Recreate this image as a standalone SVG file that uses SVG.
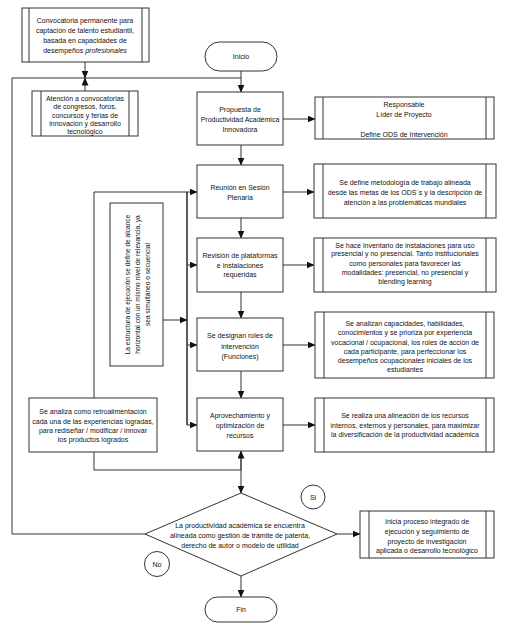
<svg xmlns="http://www.w3.org/2000/svg" width="511" height="635" viewBox="0 0 511 635">
<defs>
<marker id="ah" markerWidth="8" markerHeight="7" refX="7.5" refY="3.5" orient="auto" markerUnits="userSpaceOnUse">
<path d="M0,0 L8,3.5 L0,7 Z" fill="#111"/>
</marker>
<style>
.b{fill:#fff;stroke:#333;stroke-width:1}
.l{fill:none;stroke:#333;stroke-width:1}
.c{fill:none;stroke:#333;stroke-width:1;marker-end:url(#ah)}
text{font-family:"Liberation Sans",Arial,sans-serif;font-size:7px;fill:#111;text-anchor:middle}
.v{font-size:6.6px}
</style>
</defs>
<rect width="511" height="635" fill="#fff"/>

<g id="connectors">
<path class="c" d="M241,71 V92"/>
<path class="l" d="M145,534 H12 V78 H241"/>
<path class="c" d="M85,62 V78"/>
<path class="c" d="M85,91 V78"/>
<path class="c" d="M241,145 V165"/>
<path class="c" d="M241,218 V238"/>
<path class="c" d="M241,292 V318"/>
<path class="c" d="M241,371 V398"/>
<path class="c" d="M241,451 V493"/>
<path class="c" d="M94,452 V470 H241 V451"/>
<path class="c" d="M94,398 V192 H197"/>
<path fill="none" stroke="#333" stroke-width="1.6" d="M187,192 V425"/>
<path class="c" d="M187,425 H197"/>
<path class="c" d="M187,265 H197"/>
<path class="c" d="M187,345 H197"/>
<path class="c" d="M163,320 H187"/>
<path class="c" d="M283,119 H315"/>
<path class="c" d="M283,192 H314"/>
<path class="c" d="M283,265 H314"/>
<path class="c" d="M283,345 H315"/>
<path class="c" d="M283,425 H315"/>
<path class="c" d="M337,534 H360"/>
<path class="c" d="M241,576 V597"/>
</g>

<g id="convocatoria">
<rect class="b" x="22" y="8" width="127" height="54"/>
<path class="l" d="M29,8 V62 M142,8 V62"/>
<text x="85" y="22.5">Convocatoria permanente para</text>
<text x="85" y="32.5">captación de talento estudiantil,</text>
<text x="85" y="42.5">basada en capacidades de</text>
<text x="85" y="52.5">desempeños <tspan font-style="italic">profesionales</tspan></text>
</g>

<g id="atencion">
<rect class="b" x="32" y="91" width="106" height="45"/>
<path class="l" d="M41,91 V136 M129,91 V136"/>
<text x="85" y="100.5">Atención a convocatorias</text>
<text x="85" y="109">de congresos, foros,</text>
<text x="85" y="117.5">concursos y ferias de</text>
<text x="85" y="126">innovación y desarrollo</text>
<text x="85" y="134">tecnológico</text>
</g>

<g id="inicio">
<rect class="b" x="205" y="42" width="72" height="29" rx="14.5"/>
<text x="241" y="58.5">Inicio</text>
</g>

<g id="propuesta">
<rect class="b" x="197" y="92" width="86" height="53"/>
<text x="240" y="111.5">Propuesta de</text>
<text x="240" y="121.5">Productividad Académica</text>
<text x="240" y="131.5">Innovadora</text>
</g>

<g id="responsable">
<rect class="b" x="315" y="97" width="179" height="42"/>
<path class="l" d="M323,97 V139 M486,97 V139"/>
<text x="404" y="106.5">Responsable</text>
<text x="404" y="116.5">Líder de Proyecto</text>
<text x="404" y="136.5">Define ODS de Intervención</text>
</g>

<g id="reunion">
<rect class="b" x="197" y="165" width="86" height="53"/>
<text x="240" y="189.5">Reunión en Sesión</text>
<text x="240" y="199.5">Plenaria</text>
</g>

<g id="metodologia">
<rect class="b" x="314" y="164" width="182" height="54"/>
<path class="l" d="M323,164 V218 M486,164 V218"/>
<text x="405" y="184.5">Se define metodología de trabajo alineada</text>
<text x="405" y="194.5">desde las metas de los ODS´s y la descripción de</text>
<text x="405" y="204.5">atención a las problemáticas mundiales</text>
</g>

<g id="revision">
<rect class="b" x="197" y="238" width="86" height="54"/>
<text x="240" y="257.5">Revisión de plataformas</text>
<text x="240" y="267.5">e instalaciones</text>
<text x="240" y="276.5">requeridas</text>
</g>

<g id="inventario">
<rect class="b" x="314" y="238" width="182" height="54"/>
<path class="l" d="M323,238 V292 M486,238 V292"/>
<text x="405" y="247.5">Se hace inventario de instalaciones para uso</text>
<text x="405" y="256">presencial y no presencial. Tanto institucionales</text>
<text x="405" y="265.5">como personales para favorecer las</text>
<text x="405" y="274.5">modalidades: presencial, no presencial y</text>
<text x="405" y="283.5">blending learning</text>
</g>

<g id="designan">
<rect class="b" x="197" y="318" width="86" height="53"/>
<text x="240" y="337.5">Se designan roles de</text>
<text x="240" y="348.5">intervención</text>
<text x="240" y="358.5">(Funciones)</text>
</g>

<g id="analizan">
<rect class="b" x="315" y="312" width="179" height="66"/>
<path class="l" d="M324,312 V378 M486,312 V378"/>
<text x="405" y="325.5">Se analizan capacidades, habilidades,</text>
<text x="405" y="334.5">conocimientos y se prioriza por experiencia</text>
<text x="405" y="344.5">vocacional / ocupacional, los roles de acción de</text>
<text x="405" y="353.5">cada participante, para perfeccionar los</text>
<text x="405" y="362.5">desempeños ocupacionales iniciales de los</text>
<text x="405" y="371.5">estudiantes</text>
</g>

<g id="estructura">
<rect class="b" x="110" y="203" width="53" height="163"/>
<g transform="translate(136.5,284.5) rotate(-90)">
<text class="v" x="0" y="-7">La estructura de ejecución se define de alcance</text>
<text class="v" x="0" y="3">horizontal con un mismo nivel de relevancia, ya</text>
<text class="v" x="0" y="13">sea simultáneo o secuencial</text>
</g>
</g>

<g id="aprovechamiento">
<rect class="b" x="197" y="398" width="86" height="53"/>
<text x="240" y="417.5">Aprovechamiento  y</text>
<text x="240" y="427.5">optimización de</text>
<text x="240" y="437.5">recursos</text>
</g>

<g id="alineacion">
<rect class="b" x="315" y="398" width="179" height="54"/>
<path class="l" d="M324,398 V452 M486,398 V452"/>
<text x="405" y="417.5">Se realiza una alineación de los recursos</text>
<text x="405" y="427.5">internos, externos y personales, para maximizar</text>
<text x="405" y="436.5">la diversificación de la productividad académica</text>
</g>

<g id="retroalimentacion">
<rect class="b" x="29" y="398" width="128" height="54"/>
<text x="93" y="413.5">Se analiza como retroalimentación</text>
<text x="93" y="423.5">cada una de las experiencias logradas,</text>
<text x="93" y="432.5">para rediseñar / modificar / innovar</text>
<text x="93" y="441.5">los productos logrados</text>
</g>

<g id="decision">
<path class="b" d="M241,493 L337,534 L241,576 L145,534 Z"/>
<text x="240" y="527.5">La productividad académica se encuentra</text>
<text x="240" y="537.5">alineada como gestión de trámite de patenta,</text>
<text x="240" y="547.5">derecho de autor o modelo de utilidad</text>
</g>

<g id="si">
<circle class="b" cx="313" cy="497" r="12"/>
<text x="313" y="499.5">Si</text>
</g>

<g id="no">
<circle class="b" cx="157" cy="564" r="12.5"/>
<text x="157" y="566.5">No</text>
</g>

<g id="inicia">
<rect class="b" x="360" y="511" width="134" height="47"/>
<path class="l" d="M369,511 V558 M486,511 V558"/>
<text x="427" y="523.5">Inicia proceso integrado de</text>
<text x="427" y="533.5">ejecución y seguimiento de</text>
<text x="427" y="543.5">proyecto de investigación</text>
<text x="427" y="552.5">aplicada o desarrollo tecnológico</text>
</g>

<g id="fin">
<rect class="b" x="205" y="597" width="72" height="25" rx="12.5"/>
<text x="241" y="611.5">Fin</text>
</g>
</svg>
